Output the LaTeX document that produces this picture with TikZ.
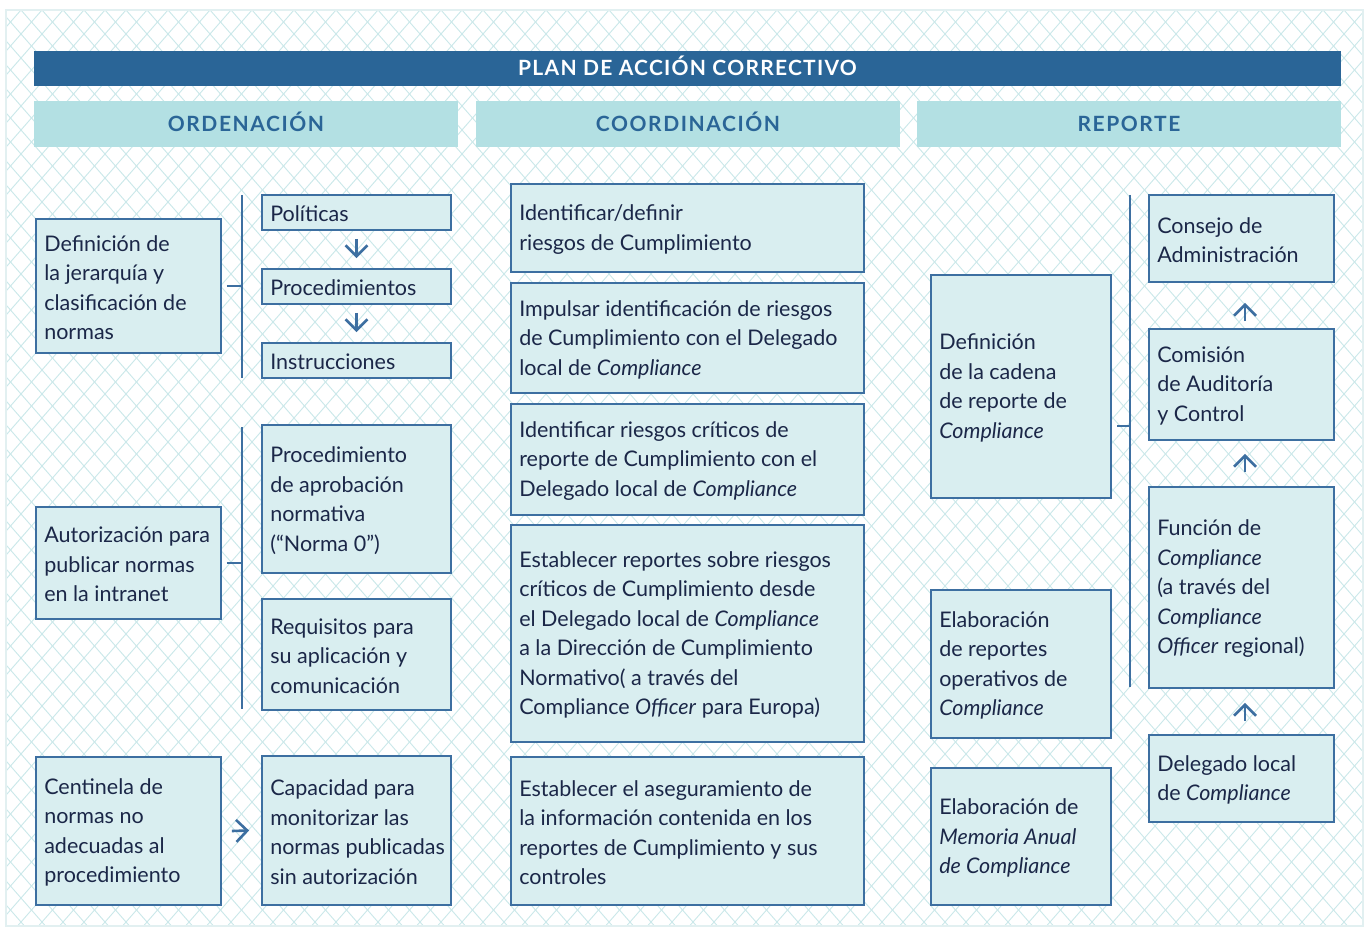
\documentclass[tikz,border=0pt]{standalone}
\usepackage{fontspec}
\setmainfont{Lato}
\newfontfamily\hdrfont[LetterSpace=7.5]{Lato Bold}
\newfontfamily\ttlfont[LetterSpace=6]{Lato Bold}
\usetikzlibrary{arrows.meta}
\definecolor{titlebg}{HTML}{2A6597}
\definecolor{hdrbg}{HTML}{B3E0E3}
\definecolor{boxbg}{HTML}{D9EEF0}
\definecolor{boxline}{HTML}{3D6FA1}
\definecolor{txt}{HTML}{1B2748}
\definecolor{hatch}{HTML}{CBE8EA}
\definecolor{framec}{HTML}{E2F0F1}
\newcommand\mybox[6]{%
  \pgfmathsetmacro\bw{#4-#2}\pgfmathsetmacro\bh{#5-#3}%
  \node[box, minimum width=\bw pt, minimum height=\bh pt] (#1) at ({(#2+#4)/2},{(#3+#5)/2}) {};
  \node[boxtext] (#1-t) at ([xshift=9pt,yshift=-1.5pt]#1.west) {#6};}
\begin{document}
\begin{tikzpicture}[x=1pt,y=-1pt,
  box/.style={draw=boxline, fill=boxbg, line width=1.8pt, inner sep=0pt},
  boxtext/.style={anchor=west, inner sep=0pt, align=left, text=txt, font=\fontsize{21.5}{29.5}\selectfont},
  hdr/.style={fill=hdrbg, inner sep=0pt, minimum width=424pt, minimum height=46pt, text height=15pt, text depth=0pt, text=titlebg, font=\hdrfont\fontsize{21}{24}\selectfont},
  brk/.style={draw=boxline, line width=2.6pt},
  arr/.style={draw=boxline, line width=2.6pt, -{Straight Barb[length=11pt,width=22pt,line width=2.6pt]}}]
\useasboundingbox (0,0) rectangle (1369,928);
\fill[white] (0,0) rectangle (1369,928);
% hatched background
\begin{scope}
\clip (6,10) rectangle (1363,926);
\foreach \i in {-840,-819,...,2200}{
  \draw[hatch, line width=0.9pt] (\i,10) -- ++(822.5,940);
  \draw[hatch, line width=0.9pt] (\i,10) -- ++(-822.5,940);
}
\end{scope}
\draw[framec, line width=2pt] (6,10) rectangle (1363,926);
% title
\node[fill=titlebg, minimum width=1307pt, minimum height=35pt, inner sep=0pt, text height=15pt, text depth=0pt, text=white, font=\ttlfont\fontsize{21}{24}\selectfont] (title) at (687.5,68.5) {PLAN DE ACCIÓN CORRECTIVO};
\node[hdr] (h1) at (246,124) {ORDENACIÓN};
\node[hdr] (h2) at (688,124) {COORDINACIÓN};
\node[hdr] (h3) at (1129,124) {REPORTE};
% column 1
\mybox{A1}{36}{219}{221}{353}{Definición de\\la jerarquía y\\clasificación de\\normas}
\mybox{P1}{262}{195}{451}{230}{Políticas}
\mybox{P2}{262}{269}{451}{304}{Procedimientos}
\mybox{P3}{262}{343}{451}{378}{Instrucciones}
\mybox{A2}{36}{507}{221}{619}{Autorización para\\publicar normas\\en la intranet}
\mybox{Q1}{262}{425}{451}{573}{Procedimiento\\de aprobación\\normativa\\(“Norma 0”)}
\mybox{Q2}{262}{599}{451}{710}{Requisitos para\\su aplicación y\\comunicación}
\mybox{A3}{36}{757}{221}{905}{Centinela de\\normas no\\adecuadas al\\procedimiento}
\mybox{Q3}{262}{756}{451}{905}{Capacidad para\\monitorizar las\\normas publicadas\\sin autorización}
% column 2
\mybox{C1}{511}{184}{864}{272}{Identificar/definir\\riesgos de Cumplimiento}
\mybox{C2}{511}{283}{864}{393}{Impulsar identificación de riesgos\\de Cumplimiento con el Delegado\\local de \textit{Compliance}}
\mybox{C3}{511}{404}{864}{515}{Identificar riesgos críticos de\\reporte de Cumplimiento con el\\Delegado local de \textit{Compliance}}
\mybox{C4}{511}{525}{864}{742}{Establecer reportes sobre riesgos\\críticos de Cumplimiento desde\\el Delegado local de \textit{Compliance}\\a la Dirección de Cumplimiento\\Normativo( a través del\\Compliance \textit{Officer} para Europa)}
\mybox{C5}{511}{757}{864}{905}{Establecer el aseguramiento de\\la información contenida en los\\reportes de Cumplimiento y sus\\controles}
% column 3
\mybox{R1}{931}{275}{1111}{498}{Definición\\de la cadena\\de reporte de\\\textit{Compliance}}
\mybox{R2}{931}{590}{1111}{738}{Elaboración\\de reportes\\operativos de\\\textit{Compliance}}
\mybox{R3}{931}{768}{1111}{905}{Elaboración de\\\textit{Memoria Anual}\\\textit{de Compliance}}
\mybox{S1}{1149}{195}{1334}{282}{Consejo de\\Administración}
\mybox{S2}{1149}{329}{1334}{440}{Comisión\\de Auditoría\\y Control}
\mybox{S3}{1149}{487}{1334}{688}{Función de\\\textit{Compliance}\\(a través del\\\textit{Compliance}\\\textit{Officer} regional)}
\mybox{S4}{1149}{735}{1334}{822}{Delegado local\\de \textit{Compliance}}
% brackets
\coordinate (b1t) at (242,195); \coordinate (b1b) at (242,378);
\coordinate (b2t) at (242,427); \coordinate (b2b) at (242,709);
\coordinate (b3t) at (1130,195); \coordinate (b3b) at (1130,687);
\coordinate (t3a) at (1117,426); \coordinate (t3b) at (1130,426);
\draw[brk] (b1t) -- (b1b);
\draw[brk] (b2t) -- (b2b);
\draw[brk] (b3t) -- (b3b);
\draw[brk] ([xshift=5pt]A1.east) -- (A1.east -| b1t);
\draw[brk] ([xshift=5pt]A2.east) -- (A2.east -| b2t);
\draw[brk] (t3a) -- (t3b);
% arrows
\draw[arr] ([yshift=-8pt]P1.south) -- ([yshift=10pt]P2.north);
\draw[arr] ([yshift=-8pt]P2.south) -- ([yshift=10pt]P3.north);
\draw[arr] ([xshift=10pt]A3.east) -- ([xshift=-12pt]Q3.west);
\draw[arr] ([xshift=3.5pt,yshift=7pt]S2.north) -- ([xshift=3.5pt,yshift=-20pt]S1.south);
\draw[arr] ([xshift=3.5pt,yshift=14pt]S3.north) -- ([xshift=3.5pt,yshift=-13pt]S2.south);
\draw[arr] ([xshift=3.5pt,yshift=13pt]S4.north) -- ([xshift=3.5pt,yshift=-14pt]S3.south);
\end{tikzpicture}
\end{document}
